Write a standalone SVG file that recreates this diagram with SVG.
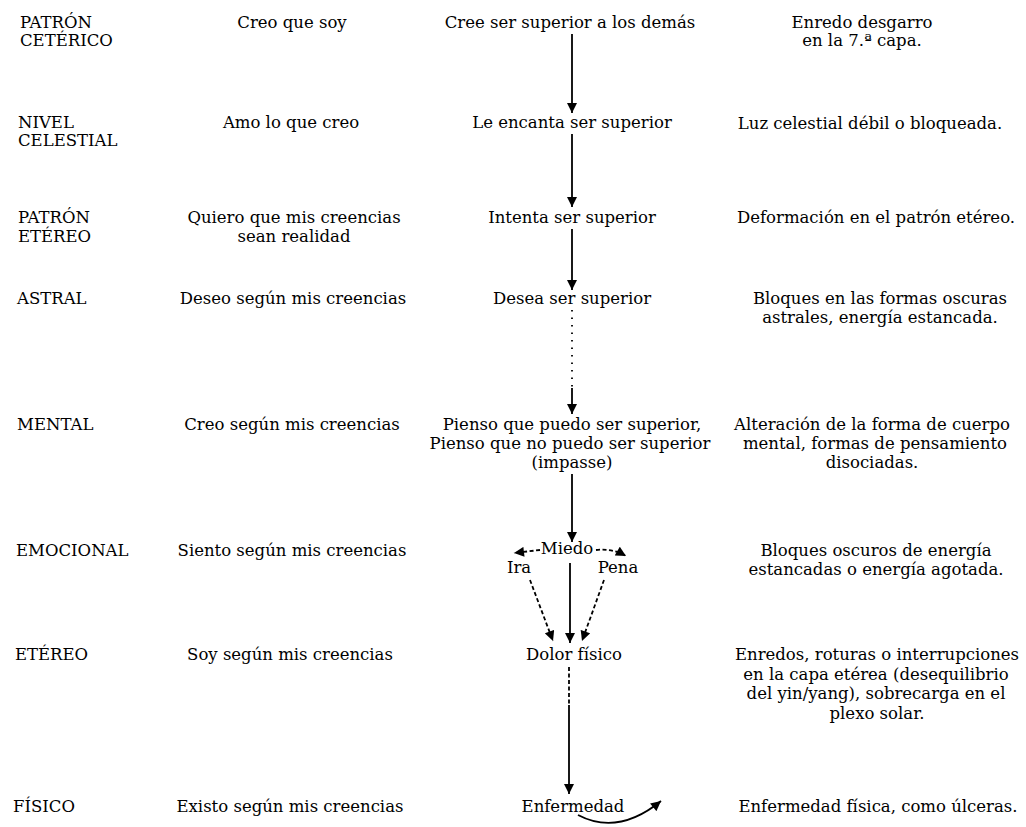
<svg xmlns="http://www.w3.org/2000/svg" width="1026" height="827" viewBox="0 0 1026 827">
<defs>
<marker id="ah" viewBox="0 0 10 10" refX="10" refY="5" markerWidth="11" markerHeight="10" markerUnits="userSpaceOnUse" orient="auto">
<path d="M0,0 L10,5 L0,10 z" fill="#000"/>
</marker>
<style>
text{font-family:"DejaVu Serif","Liberation Serif",serif;font-size:16.5px;fill:#000}
.l{text-anchor:start}
.c{text-anchor:middle}
.ln{stroke:#000;stroke-width:1.8;fill:none}
.arr{marker-end:url(#ah)}
.dash{stroke-dasharray:4 2.5}
.dot{stroke-dasharray:1.5 6}
</style>
</defs>
<rect width="1026" height="827" fill="#fff"/>

<g id="labels">
<g id="lbl-keterico"><text class="l" x="20" y="28">PATRÓN</text><text class="l" x="20" y="46">CETÉRICO</text></g>
<g id="lbl-celestial"><text class="l" x="18" y="128">NIVEL</text><text class="l" x="18" y="146">CELESTIAL</text></g>
<g id="lbl-patron-etereo"><text class="l" x="18" y="223">PATRÓN</text><text class="l" x="18" y="242">ETÉREO</text></g>
<g id="lbl-astral"><text class="l" x="17" y="304">ASTRAL</text></g>
<g id="lbl-mental"><text class="l" x="17" y="430">MENTAL</text></g>
<g id="lbl-emocional"><text class="l" x="16" y="556">EMOCIONAL</text></g>
<g id="lbl-etereo"><text class="l" x="15" y="660">ETÉREO</text></g>
<g id="lbl-fisico"><text class="l" x="13" y="812">FÍSICO</text></g>
</g>

<g id="beliefs">
<g id="b1"><text class="c" x="292" y="28">Creo que soy</text></g>
<g id="b2"><text class="c" x="291" y="128">Amo lo que creo</text></g>
<g id="b3"><text class="c" x="294" y="223">Quiero que mis creencias</text><text class="c" x="294" y="242">sean realidad</text></g>
<g id="b4"><text class="c" x="293" y="304">Deseo según mis creencias</text></g>
<g id="b5"><text class="c" x="292" y="430">Creo según mis creencias</text></g>
<g id="b6"><text class="c" x="292" y="556">Siento según mis creencias</text></g>
<g id="b7"><text class="c" x="290" y="660">Soy según mis creencias</text></g>
<g id="b8"><text class="c" x="290" y="812">Existo según mis creencias</text></g>
</g>

<g id="chain">
<g id="n1"><text class="c" x="570" y="28">Cree ser superior a los demás</text></g>
<g id="n2"><text class="c" x="572" y="128">Le encanta ser superior</text></g>
<g id="n3"><text class="c" x="572" y="223">Intenta ser superior</text></g>
<g id="n4"><text class="c" x="572" y="304">Desea ser superior</text></g>
<g id="n5"><text class="c" x="572" y="430">Pienso que puedo ser superior,</text><text class="c" x="570" y="449">Pienso que no puedo ser superior</text><text class="c" x="572" y="468">(impasse)</text></g>
<g id="n-miedo"><text class="c" x="567" y="554">Miedo</text></g>
<g id="n-ira"><text class="c" x="519" y="573">Ira</text></g>
<g id="n-pena"><text class="c" x="618" y="573">Pena</text></g>
<g id="n-dolor"><text class="c" x="574" y="660">Dolor físico</text></g>
<g id="n-enfermedad"><text class="c" x="573" y="812">Enfermedad</text></g>
</g>

<g id="effects">
<g id="e1"><text class="c" x="862" y="28">Enredo desgarro</text><text class="c" x="862" y="46">en la 7.ª capa.</text></g>
<g id="e2"><text class="c" x="870" y="129">Luz celestial débil o bloqueada.</text></g>
<g id="e3"><text class="c" x="876" y="223">Deformación en el patrón etéreo.</text></g>
<g id="e4"><text class="c" x="880" y="304">Bloques en las formas oscuras</text><text class="c" x="880" y="323">astrales, energía estancada.</text></g>
<g id="e5"><text class="c" x="872" y="430">Alteración de la forma de cuerpo</text><text class="c" x="875" y="449">mental, formas de pensamiento</text><text class="c" x="872" y="468">disociadas.</text></g>
<g id="e6"><text class="c" x="876" y="556">Bloques oscuros de energía</text><text class="c" x="876" y="575">estancadas o energía agotada.</text></g>
<g id="e7"><text class="c" x="877" y="660">Enredos, roturas o interrupciones</text><text class="c" x="876" y="680">en la capa etérea (desequilibrio</text><text class="c" x="876" y="699">del yin/yang), sobrecarga en el</text><text class="c" x="877" y="719">plexo solar.</text></g>
<g id="e8"><text class="c" x="878" y="812">Enfermedad física, como úlceras.</text></g>
</g>

<g id="connectors">
<line class="ln arr" x1="572" y1="34" x2="572" y2="113"/>
<line class="ln arr" x1="572" y1="134" x2="572" y2="207"/>
<line class="ln arr" x1="572" y1="229" x2="572" y2="290"/>
<line class="ln dot" x1="572" y1="310" x2="572" y2="388"/>
<line class="ln arr" x1="572" y1="388" x2="572" y2="414"/>
<line class="ln arr" x1="572" y1="474" x2="572" y2="542"/>
<path class="ln dash arr" d="M540,550 L514,553"/>
<path class="ln dash arr" d="M596,550 Q612,548 626,556"/>
<line class="ln dash arr" x1="530" y1="580" x2="553" y2="641"/>
<line class="ln arr" x1="570" y1="563" x2="570" y2="643"/>
<line class="ln dash arr" x1="604" y1="580" x2="582" y2="641"/>
<line class="ln dash" x1="569" y1="667" x2="569" y2="705"/>
<line class="ln arr" x1="569" y1="705" x2="569" y2="794"/>
<path class="ln arr" d="M578,815 Q618,836 661,801"/>
</g>
</svg>
